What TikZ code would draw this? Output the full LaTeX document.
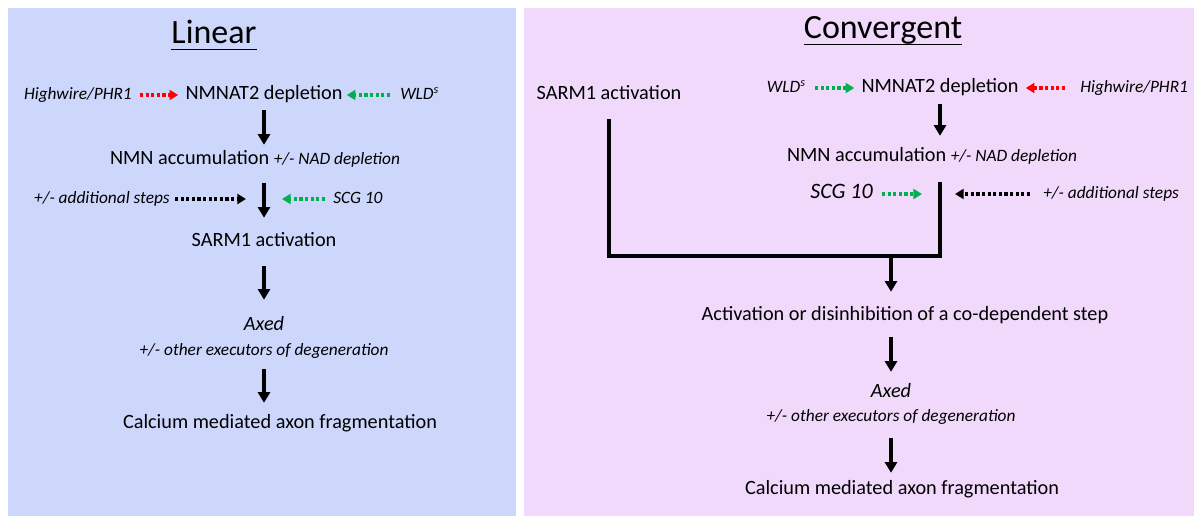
\documentclass[tikz,border=0pt]{standalone}
\usepackage{fontspec}
\setmainfont{Carlito}
\usetikzlibrary{arrows.meta}

\definecolor{linearbg}{RGB}{205,215,252}
\definecolor{convbg}{RGB}{241,217,252}
\definecolor{wldgreen}{RGB}{0,176,80}
\definecolor{hwred}{RGB}{255,0,0}

\newcommand{\smallit}{\fontsize{13}{15.5}\selectfont\itshape}

\begin{document}
\begin{tikzpicture}[x=0.75pt,y=-0.75pt,
        stagetext/.style={font=\fontsize{15.2}{18}\selectfont,inner sep=0pt,text height=10pt,text depth=3pt},
        stageit/.style={stagetext,font=\fontsize{15.2}{18}\selectfont\itshape},
        ital/.style={font=\smallit,inner sep=0pt,text height=9pt,text depth=2.5pt},
        heading/.style={font=\fontsize{25.5}{30}\selectfont,inner sep=0pt,text height=18pt,text depth=4.5pt,anchor=south},
        uline/.style={line width=1.1pt},
        flow/.style={line width=2.4pt,-{Triangle[length=8pt,width=9pt]}},
        dotarrow/.style={line width=2.8pt,dash pattern=on 2.4pt off 1.8pt,-{Triangle[length=6.5pt,width=7.5pt]}},
        bar/.style={line width=2.4pt,line cap=rect}]

    \useasboundingbox (0,0) rectangle (1194,516);
    \fill[linearbg] (8,8) rectangle (516,516);
    \fill[convbg] (524,8) rectangle (1194,516);

    % linear
    \node[heading] (titleL) at (214,49.5) {Linear};
    \draw[uline] (titleL.south west) -- (titleL.south east);

    \node[stagetext] (nmnatL) at (264,95) {NMNAT2 depletion};
    \node[ital,anchor=east] (hwL) at (132,95) {Highwire/PHR1};
    \node[ital,anchor=west] (wldL) at (400,95) {WLD\textsuperscript{s}};
    \node[stagetext] (nmnL) at (255,160) {NMN accumulation {\smallit +/- NAD depletion}};
    \node[ital,anchor=east] (addL) at (170,199) {+/- additional steps};
    \node[ital,anchor=west] (scgL) at (333,199) {SCG 10};
    \coordinate (hitL) at (264,199);
    \node[stagetext] (sarmL) at (264,242) {SARM1 activation};
    \node[stageit] (axedL) at (264,326) {Axed};
    \node[ital] (execL) at (264,351) {+/- other executors of degeneration};
    \node[stagetext] (calcL) at (280,424) {Calcium mediated axon fragmentation};

    \draw[flow,shorten <=4.7pt,shorten >=4.7pt] (nmnatL.south) -- (nmnatL.south |- nmnL.north);
    \draw[flow,shorten <=10.7pt,shorten >=11.5pt] (nmnL.south -| sarmL) -- (sarmL.north);
    \draw[flow,shorten <=11.5pt,shorten >=13pt] (sarmL.south) -- (axedL.north);
    \draw[flow,shorten <=7.7pt,shorten >=9.2pt] (execL.south) -- (execL.south |- calcL.north);

    \draw[dotarrow,hwred,shorten <=6pt,shorten >=5.3pt] (hwL.east) -- (nmnatL.west);
    \draw[dotarrow,wldgreen,shorten <=7.5pt,shorten >=3pt] (wldL.west) -- (nmnatL.east);
    \draw[dotarrow,shorten <=3.75pt,shorten >=13.5pt] (addL.east) -- (hitL);
    \draw[dotarrow,wldgreen,shorten <=6pt,shorten >=13.5pt] (scgL.west) -- (hitL);

    % convergent
    \node[heading] (titleR) at (883,44.5) {Convergent};
    \draw[uline] (titleR.south west) -- (titleR.south east);

    \node[stagetext] (sarmR) at (609,95) {SARM1 activation};
    \node[stagetext] (nmnatR) at (940,88) {NMNAT2 depletion};
    \node[ital,anchor=east] (wldR) at (806,88) {WLD\textsuperscript{s}};
    \node[ital,anchor=west] (hwR) at (1080,88) {Highwire/PHR1};
    \node[stagetext] (nmnR) at (932,157) {NMN accumulation {\smallit +/- NAD depletion}};
    \node[ital,font=\fontsize{16.5}{19}\selectfont\itshape,anchor=east] (scgR) at (873,194) {SCG 10};
    \node[ital,anchor=west] (addR) at (1043,194) {+/- additional steps};
    \coordinate (hitR) at (939,194);
    \coordinate (thickR) at (778,256);
    \coordinate (mergeR) at (891,256);
    \node[stagetext] (actR) at (905,316) {Activation or disinhibition of a co-dependent step};
    \node[stageit] (axedR) at (891,393) {Axed};
    \node[ital] (execR) at (891,417) {+/- other executors of degeneration};
    \node[stagetext] (calcR) at (902,490) {Calcium mediated axon fragmentation};

    \draw[flow,shorten <=5.5pt,shorten >=9.2pt] (nmnatR.south) -- (nmnatR.south |- nmnR.north);
    \draw[bar,shorten <=12.2pt] (sarmR.south) -- (sarmR.south |- thickR);
    \draw[bar,line width=3.6pt] (sarmR.south |- thickR) -- (thickR);
    \draw[bar,shorten <=13pt] (nmnatR.south |- nmnR.south) |- (thickR);
    \draw[flow,shorten >=11.5pt] (mergeR) -- (mergeR |- actR.north);
    \draw[flow,shorten <=9.2pt,shorten >=9.2pt] (actR.south -| axedR) -- (axedR.north);
    \draw[flow,shorten <=10pt,shorten >=6.2pt] (execR.south) -- (execR.south |- calcR.north);

    \draw[dotarrow,wldgreen,shorten <=6.75pt,shorten >=5.25pt] (wldR.east) -- (nmnatR.west);
    \draw[dotarrow,hwred,shorten <=11.25pt,shorten >=5.25pt] (hwR.west) -- (nmnatR.east);
    \draw[dotarrow,wldgreen,shorten <=6.75pt,shorten >=12.75pt] (scgR.east) -- (hitR);
    \draw[dotarrow,shorten <=9.75pt,shorten >=12pt] (addR.west) -- (hitR);
\end{tikzpicture}
\end{document}
